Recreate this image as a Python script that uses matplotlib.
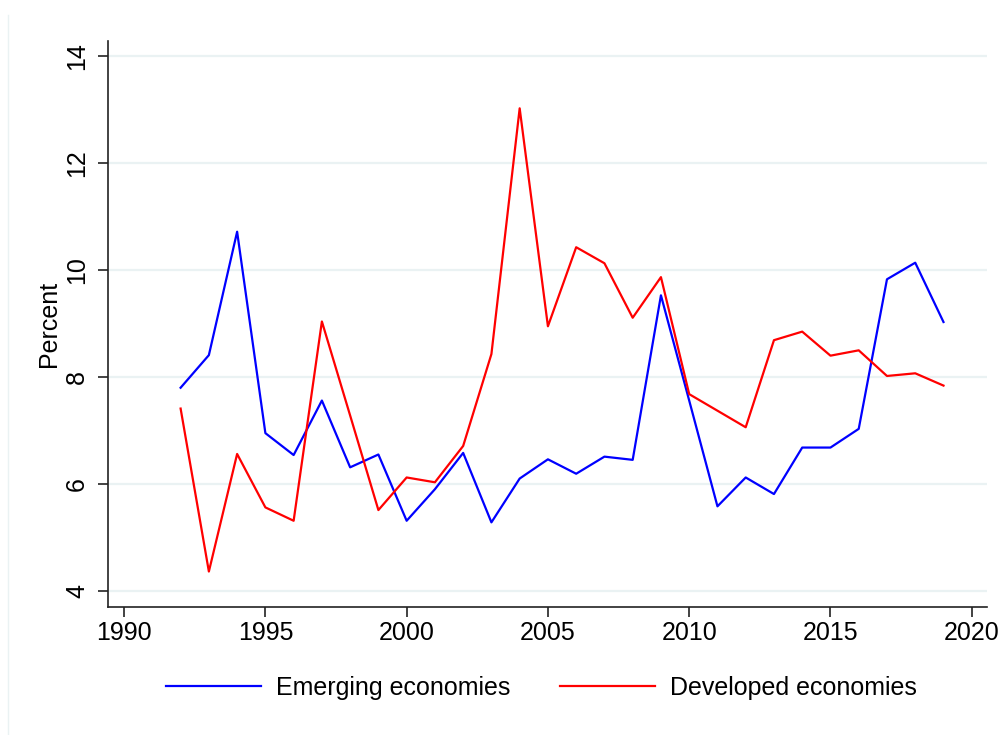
import matplotlib
matplotlib.use("Agg")
import matplotlib.pyplot as plt
from matplotlib.lines import Line2D

years = list(range(1992, 2020))
emerging = [7.80, 8.41, 10.72, 6.95, 6.54, 7.56, 6.31, 6.55, 5.31, 5.90, 6.58, 5.28, 6.10,
            6.46, 6.19, 6.51, 6.45, 9.53, 7.56, 5.58, 6.12, 5.81, 6.68, 6.68, 7.03, 9.83,
            10.14, 9.03]
developed = [7.41, 4.36, 6.56, 5.56, 5.31, 9.04, 7.28, 5.51, 6.12, 6.03, 6.71, 8.43, 13.03,
             8.95, 10.43, 10.13, 9.11, 9.87, 7.68, 7.37, 7.06, 8.69, 8.85, 8.40, 8.50, 8.02,
             8.07, 7.84]
labels = ["Emerging economies", "Developed economies"]
xticks = [1990, 1995, 2000, 2005, 2010, 2015, 2020]
yticks = [4, 6, 8, 10, 12, 14]

plt.rcParams['font.family'] = ['Liberation Sans', 'DejaVu Sans']

fig = plt.figure(figsize=(10.03, 7.35), dpi=100)
ax = fig.add_axes([108/1003, 1-607.3/735, (987-108)/1003, (607.3-41)/735])

ax.plot(years, emerging, color=(0, 0, 1), lw=1.6, label=labels[0])
ax.plot(years, developed, color=(1, 0, 0), lw=1.6, label=labels[1])

ax.set_xlim(1989.43, 2020.54)
ax.set_ylim(3.69, 14.29)
ax.set_xticks(xticks)
ax.set_yticks(yticks)
ax.set_xticklabels([str(x) for x in xticks], fontsize=18)
ax.set_yticklabels([str(y) for y in yticks], fontsize=18, rotation=90, va='center')
ax.grid(axis='y', color='#eaf2f3', lw=1.6)
ax.set_axisbelow(True)
for s in ['top', 'right']:
    ax.spines[s].set_visible(False)
for s in ['left', 'bottom']:
    ax.spines[s].set_color('#222222')
    ax.spines[s].set_linewidth(1.2)
ax.tick_params(axis='both', length=7, width=1.2, color='#222222')
ax.tick_params(axis='y', pad=6.5)
ax.tick_params(axis='x', pad=3)
ax.set_ylabel("Percent", fontsize=18, labelpad=3)

handles = [Line2D([], [], color=(0, 0, 1), lw=1.6), Line2D([], [], color=(1, 0, 0), lw=1.6)]
fig.legend(handles, labels, loc='center', bbox_to_anchor=(0.540, 0.064), ncol=2,
           frameon=False, fontsize=18, handlelength=3.8, handletextpad=0.6,
           columnspacing=1.96)

fig.add_artist(Line2D([8/1003, 8/1003], [0, 1-15/735], transform=fig.transFigure,
                      color='#eaf2f3', lw=1.0))

fig.savefig("out.png", dpi=100)
